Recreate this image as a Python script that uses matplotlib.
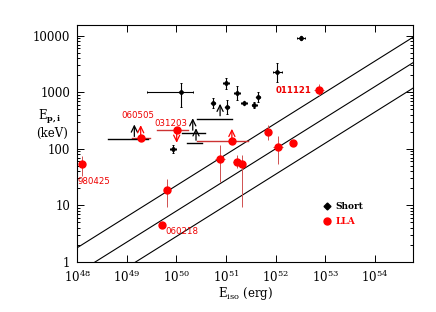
import numpy as np
import matplotlib
matplotlib.use("Agg")
import matplotlib.pyplot as plt
from matplotlib.ticker import FixedLocator, LogLocator, NullFormatter, FuncFormatter

plt.rcParams['font.family'] = ['DejaVu Serif']
plt.rcParams['mathtext.fontset'] = 'dejavuserif'

# ---------------- data ----------------
# Short GRBs (black): Eiso, Ep,i and error-bar bounds
short_E    = [3.28e52, 1.09e52, 9.96e50, 1.66e51, 2.36e51, 3.76e51, 4.52e51, 5.6e50, 1.07e51, 1.25e50, 8.5e49]
short_Elo  = [2.73e52, 8.7e51, 8.7e50, 1.45e51, 2.05e51, 3.3e51, 4.2e51, 5.2e50, 1.0e51, 2.54e49, 7.4e49]
short_Ehi  = [3.94e52, 1.37e52, 1.14e51, 1.90e51, 2.72e51, 4.3e51, 4.9e51, 6.0e50, 1.15e51, 2.21e50, 9.8e49]
short_Ep   = [9100, 2265, 1443, 982, 644, 593, 833, 636, 553, 1010, 100]
short_Eplo = [8360, 1535, 1150, 740, 620, 520, 680, 520, 415, 553, 85]
short_Ephi = [9900, 3340, 1810, 1300, 670, 675, 1020, 780, 740, 1443, 118]

# Short GRBs lower limits on Ep,i (black arrows)
shortlim_E   = [7.64e50, 2.15e50, 2.5e50, 1.43e49]
shortlim_Elo = [2.59e50, 1.29e50, 1.63e50, 4.22e48]
shortlim_Ehi = [1.31e51, 3.81e50, 3.27e50, 2.69e49]
shortlim_Ep  = [344, 191, 127, 148]

# Long low-luminosity / anomalous GRBs (red)
lla_E    = [1.24e48, 5.18e49, 6.62e49, 7.64e50, 1.71e51, 2.09e51, 7.2e51, 1.14e52, 2.23e52, 7.67e52]
lla_Elo  = [1.24e48, 5.18e49, 6.0e49, 6.1e50, 1.37e51, 1.95e51, 6.5e51, 9.1e51, 1.94e52, 6.1e52]
lla_Ehi  = [1.24e48, 5.18e49, 7.3e49, 9.6e50, 2.14e51, 2.25e51, 8.0e51, 1.43e52, 2.56e52, 9.6e52]
lla_Ep   = [54.6, 4.55, 19.05, 67, 58.2, 54.6, 199, 108, 127, 1096]
lla_Eplo = [32.8, 4.55, 9.5, 25.7, 45, 9.2, 142, 54.6, 120, 855]
lla_Ephi = [74.5, 4.55, 29.5, 115, 76.6, 76.6, 262, 167, 134, 1405]
lla_names = ["980425", "060218", "", "", "", "", "", "", "", "011121"]

# LLA limits: +1 lower limit (arrow up), -1 upper limit (arrow down)
llalim_E    = [1.92e49, 1.32e51, 1.02e50]
llalim_Elo  = [1.26e49, 2.59e50, 4.05e49]
llalim_Ehi  = [2.95e49, 2.81e51, 1.75e50]
llalim_Ep   = [158, 136, 213]
llalim_dir  = [1, 1, -1]
llalim_names = ["060505", "", "031203"]

# Amati relation: Ep,i = K (Eiso/1e52)^m, with +/- scatter (dex)
amati_K = 100.0
amati_m = 0.55
amati_sig = 0.45

# ---------------- figure ----------------
W, H = 436, 312
fig = plt.figure(figsize=(W / 100, H / 100), dpi=100)
ax = fig.add_axes([77 / W, 1 - 262 / H, 336 / W, 237 / H])
ax.set_xscale('log')
ax.set_yscale('log')
xmin, xmax = 1e48, 10 ** 54.77
ymin, ymax = 1.0, 10 ** 4.19
ax.set_xlim(xmin, xmax)
ax.set_ylim(ymin, ymax)

# Amati lines
xx = np.logspace(48, 54.77, 50)
for off in (-amati_sig, 0.0, amati_sig):
    ax.plot(xx, amati_K * 10 ** off * (xx / 1e52) ** amati_m, color='black', lw=0.8, zorder=2)

# Short GRBs
sE = np.array(short_E); sEp = np.array(short_Ep)
ax.errorbar(sE, sEp,
            xerr=[sE - np.array(short_Elo), np.array(short_Ehi) - sE],
            yerr=[sEp - np.array(short_Eplo), np.array(short_Ephi) - sEp],
            fmt='D', color='black', ms=2.2, elinewidth=0.8, capsize=1.0, capthick=0.7, zorder=4)

# Short lower limits
for e, elo, ehi, ep in zip(shortlim_E, shortlim_Elo, shortlim_Ehi, shortlim_Ep):
    ax.plot([elo, ehi], [ep, ep], color='black', lw=1.0, zorder=4)
    ax.annotate('', xy=(e, ep * 10 ** 0.31), xytext=(e, ep),
                arrowprops=dict(arrowstyle='->,head_length=0.45,head_width=0.22', color='black', lw=0.9),
                zorder=4)

# LLA points
lE = np.array(lla_E); lEp = np.array(lla_Ep)
ax.errorbar(lE, lEp,
            xerr=[lE - np.array(lla_Elo), np.array(lla_Ehi) - lE],
            yerr=[lEp - np.array(lla_Eplo), np.array(lla_Ephi) - lEp],
            fmt='none', ecolor='#d05050', elinewidth=0.7, capsize=0, zorder=3)
ax.plot(lE, lEp, 'o', color='#ff0000', ms=5, mec='#ff0000', zorder=5)

# LLA limits
for e, elo, ehi, ep, d in zip(llalim_E, llalim_Elo, llalim_Ehi, llalim_Ep, llalim_dir):
    ax.plot([elo, ehi], [ep, ep], color='#cc3333', lw=1.0, zorder=3)
    ax.annotate('', xy=(e, ep * 10 ** (0.27 * d)), xytext=(e, ep),
                arrowprops=dict(arrowstyle='->,head_length=0.45,head_width=0.22', color='#ff0000', lw=0.9),
                zorder=5)
    ax.plot([e], [ep], 'o', color='#ff0000', ms=5, zorder=5)

# Labels of individual GRBs
lab_kw = dict(color='#ee0000', fontsize=6.2, family='DejaVu Sans', textcoords='offset points')
ax.annotate(lla_names[0], (lla_E[0], lla_Ep[0]), xytext=(9, -12.5), ha='center', va='center', **lab_kw)
ax.annotate(lla_names[1], (lla_E[1], lla_Ep[1]), xytext=(2.5, -5), ha='left', va='center', **lab_kw)
ax.annotate(lla_names[9], (lla_E[9], lla_Ep[9]), xytext=(-5.5, 0), ha='right', va='center',
            fontweight='bold', **lab_kw)
ax.annotate(llalim_names[0], (llalim_E[0], llalim_Ep[0]), xytext=(-2, 16), ha='center', va='center', **lab_kw)
ax.annotate(llalim_names[2], (llalim_E[2], llalim_Ep[2]), xytext=(-4.5, 5), ha='center', va='center', **lab_kw)

# Legend (manual, axes coords)
ax.plot([0.743], [0.236], 'D', color='black', ms=3.5, transform=ax.transAxes, clip_on=False)
ax.text(0.77, 0.236, 'Short', transform=ax.transAxes, fontsize=6.5, fontweight='bold',
        color='black', va='center', ha='left')
ax.plot([0.743], [0.172], 'o', color='#ff0000', ms=5, transform=ax.transAxes, clip_on=False)
ax.text(0.77, 0.172, 'LLA', transform=ax.transAxes, fontsize=6.5, fontweight='bold',
        color='#ff0000', va='center', ha='left')

# Ticks
ax.xaxis.set_major_locator(FixedLocator([10.0 ** k for k in range(48, 55)]))
ax.xaxis.set_minor_locator(FixedLocator([]))
ax.xaxis.set_major_formatter(FuncFormatter(lambda v, p: r'$10^{%d}$' % round(np.log10(v))))
ax.yaxis.set_major_locator(FixedLocator([1, 10, 100, 1000, 10000]))
ax.yaxis.set_minor_locator(LogLocator(base=10, subs=np.arange(2, 10), numticks=20))
ax.yaxis.set_minor_formatter(NullFormatter())
ax.yaxis.set_major_formatter(FuncFormatter(lambda v, p: '%d' % round(v)))
ax.tick_params(which='both', direction='in', top=True, right=True, width=0.7)
ax.tick_params(which='major', length=5, labelsize=8.5, pad=5)
ax.tick_params(which='minor', length=2.5)
for s in ax.spines.values():
    s.set_linewidth(0.8)

# Axis titles
fig.text(245 / W, 1 - 293 / H, r'E$_{\mathrm{iso}}$ (erg)', ha='center', va='center', fontsize=8.5)
fig.text(50 / W, 1 - 117 / H, r'E$_{\mathbf{p,i}}$', ha='center', va='center', fontsize=8.5)
fig.text(52 / W, 1 - 133 / H, '(keV)', ha='center', va='center', fontsize=8.5)

fig.savefig('out.png', dpi=100)
